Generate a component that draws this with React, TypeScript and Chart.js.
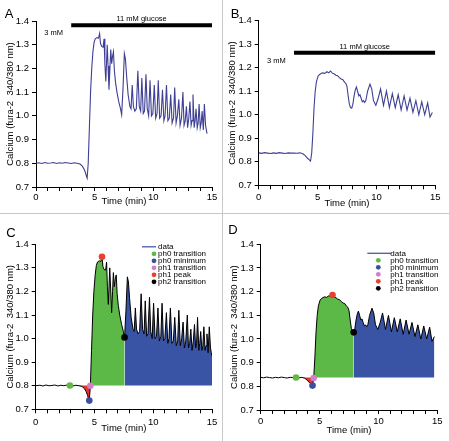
import React, { useEffect, useRef } from 'react';
import { Chart, registerables } from 'chart.js';

Chart.register(...registerables);

// ---------------- DATA ----------------
// Trace 1 (panel A, reprocessed in panel C)
const timesA = [
  0, 0.25, 0.5, 0.75, 1.0, 1.25, 1.5, 1.75, 2.0, 2.25, 2.5, 2.75, 3.0, 3.25, 3.5, 3.75, 3.95, 4.1, 4.22, 4.3,
  4.36, 4.45, 4.55, 4.65, 4.75, 4.85, 4.95, 5.05, 5.2, 5.32, 5.42, 5.5, 5.6, 5.72, 5.8, 5.87, 5.95, 6.07, 6.14, 6.22,
  6.3, 6.37, 6.45, 6.52, 6.6, 6.68, 6.78, 6.9, 7.05, 7.2, 7.3, 7.42, 7.53, 7.62, 7.72, 7.85, 8.0, 8.1, 8.2, 8.3,
  8.42, 8.55, 8.68, 8.8, 8.92, 9.02, 9.14, 9.25, 9.37, 9.48, 9.6, 9.72, 9.84, 9.96, 10.08, 10.2, 10.32, 10.42, 10.54, 10.66,
  10.78, 10.9, 11.0, 11.12, 11.24, 11.36, 11.48, 11.6, 11.72, 11.82, 11.94, 12.05, 12.17, 12.28, 12.4, 12.52, 12.62, 12.72, 12.82, 12.92,
  13.02, 13.12, 13.22, 13.3, 13.38, 13.48, 13.56, 13.64, 13.74, 13.82, 13.9, 14.0, 14.08, 14.16, 14.26, 14.35, 14.45, 14.52, 14.58,
];
const calciumA = [
  0.800, 0.802, 0.799, 0.803, 0.800, 0.801, 0.803, 0.799, 0.802, 0.800, 0.803, 0.801, 0.799, 0.802, 0.800, 0.797, 0.788, 0.775, 0.760, 0.745,
  0.737, 0.800, 0.950, 1.100, 1.200, 1.270, 1.310, 1.325, 1.330, 1.327, 1.347, 1.305, 1.293, 1.290, 1.325, 1.220, 1.145, 1.300, 1.210, 1.110,
  1.200, 1.280, 1.220, 1.250, 1.270, 1.190, 1.140, 1.100, 1.060, 1.030, 1.005, 1.120, 1.262, 1.240, 1.170, 1.090, 1.040, 1.030, 1.130, 1.040,
  1.020, 1.030, 1.190, 1.040, 1.020, 1.160, 1.010, 1.020, 1.175, 1.030, 1.000, 1.150, 1.000, 1.010, 1.130, 0.990, 1.010, 1.150, 0.990, 1.000,
  1.110, 0.980, 1.000, 1.130, 0.980, 0.990, 1.090, 0.970, 0.990, 1.120, 0.970, 1.000, 1.070, 0.960, 0.990, 1.100, 0.960, 0.980, 1.040, 0.950,
  0.990, 1.060, 0.960, 0.980, 1.090, 0.950, 0.980, 1.030, 0.950, 0.970, 1.050, 0.950, 0.970, 1.020, 0.940, 1.050, 0.960, 0.940, 0.925,
];
// Same trace as drawn on panel C's time axis
const timesC = [
  0, 0.36, 0.61, 0.87, 1.12, 1.38, 1.63, 1.89, 2.14, 2.40, 2.66, 2.91, 3.17, 3.42, 3.68, 3.93, 4.14, 4.29, 4.41, 4.49,
  4.56, 4.65, 4.75, 4.85, 4.95, 5.06, 5.16, 5.26, 5.41, 5.54, 5.64, 5.72, 5.82, 5.95, 6.03, 6.10, 6.18, 6.30, 6.38, 6.46,
  6.54, 6.61, 6.69, 6.76, 6.85, 6.93, 7.03, 7.15, 7.31, 7.46, 7.56, 7.68, 7.80, 7.89, 7.99, 8.12, 8.28, 8.38, 8.48, 8.58,
  8.71, 8.84, 8.97, 9.09, 9.22, 9.32, 9.44, 9.55, 9.68, 9.79, 9.91, 10.03, 10.16, 10.28, 10.40, 10.52, 10.65, 10.75, 10.87, 10.99,
  11.12, 11.24, 11.34, 11.46, 11.59, 11.71, 11.83, 11.96, 12.08, 12.18, 12.30, 12.42, 12.54, 12.65, 12.77, 12.90, 13.00, 13.10, 13.20, 13.30,
  13.41, 13.51, 13.61, 13.69, 13.77, 13.88, 13.96, 14.04, 14.14, 14.22, 14.31, 14.41, 14.49, 14.57, 14.67, 14.77, 14.87, 14.94, 15.00,
];

// Trace 2 (panel B, reprocessed in panel D)
const timesB = [
  0, 0.25, 0.5, 0.75, 1.0, 1.25, 1.5, 1.75, 2.0, 2.25, 2.5, 2.75, 3.0, 3.25, 3.5, 3.75, 3.95, 4.15, 4.3, 4.4,
  4.5, 4.6, 4.7, 4.8, 4.9, 5.05, 5.2, 5.4, 5.6, 5.8, 5.95, 6.1, 6.25, 6.4, 6.55, 6.7, 6.85, 7.0, 7.15, 7.3,
  7.4, 7.5, 7.6, 7.7, 7.8, 7.9, 8.0, 8.1, 8.2, 8.3, 8.4, 8.5, 8.6, 8.7, 8.8, 8.9, 9.0, 9.1, 9.25, 9.45,
  9.6, 9.75, 9.95, 10.15, 10.35, 10.6, 10.85, 11.1, 11.35, 11.6, 11.85, 12.1, 12.35, 12.6, 12.85, 13.1, 13.35, 13.6, 13.85, 14.1,
  14.35, 14.55, 14.75,
];
const calciumB = [
  0.838, 0.836, 0.839, 0.837, 0.835, 0.838, 0.836, 0.839, 0.837, 0.835, 0.838, 0.837, 0.837, 0.836, 0.838, 0.834, 0.826, 0.815, 0.808, 0.803,
  0.835, 0.920, 1.030, 1.100, 1.140, 1.165, 1.172, 1.178, 1.176, 1.183, 1.178, 1.186, 1.177, 1.174, 1.168, 1.166, 1.158, 1.152, 1.149, 1.138,
  1.134, 1.120, 1.080, 1.045, 1.030, 1.028, 1.045, 1.080, 1.105, 1.118, 1.100, 1.080, 1.085, 1.070, 1.055, 1.060, 1.052, 1.060, 1.100, 1.130,
  1.110, 1.060, 1.040, 1.070, 1.110, 1.040, 1.100, 1.030, 1.090, 1.030, 1.085, 1.020, 1.080, 1.020, 1.070, 1.010, 1.060, 1.000, 1.055, 1.000,
  1.050, 0.990, 1.010,
];

const glucoseStart = 3;
const glucoseEnd = 15;
const glucoseLevelA = 1.382;
const glucoseLevelB = 1.264;
const lowGlucoseLabelTime = 1.5;
const highGlucoseLabel = '11 mM glucose';
const lowGlucoseLabel = '3 mM';

const legendDataLabel = 'data';
const markerNames = ['ph0 transition', 'ph0 minimum', 'ph1 transition', 'ph1 peak', 'ph2 transition'];
const markerTimesC = [2.91, 4.56, 4.65, 5.64, 7.56];
const markerTimesD = [3.0, 4.4, 4.5, 6.1, 7.9];

const xTicks = [0, 5, 10, 15];

// ---------------- STYLE ----------------
const FONT = '"Liberation Sans", Arial, Helvetica, sans-serif';
const traceColor = '#3f3f96';
const legendLineColor = '#4b5aa8';
const markerColors = ['#63b946', '#3b4fa2', '#d27fcb', '#e6402e', '#000000'];
const phaseFill = { red: '#e5332a', green: '#5cb947', blue: '#3954a4' };
const tickFont = { family: FONT, size: 9.5 };

type PanelCfg = {
  key: string; kind: 'raw' | 'phase';
  left: number; top: number; width: number; height: number;
  padTop: number; padRight: number; yWidth: number; xHeight: number;
  xTickPad: number; xTitlePad: number; yTitlePad: number;
  letter: { x: number; y: number };
  legend?: { labelDx: number; dotDx: number; lineX1: number; lineX2: number; dy: number; rowH: number };
};

const panels: PanelCfg[] = [
  { key: 'A', kind: 'raw', left: 0, top: 0, width: 221, height: 213, padTop: 21, padRight: 9, yWidth: 36, xHeight: 26,
    xTickPad: 1, xTitlePad: 5.6, yTitlePad: 4.3, letter: { x: 9, y: 14 } },
  { key: 'B', kind: 'raw', left: 223, top: 0, width: 226, height: 213, padTop: 20.7, padRight: 13.7, yWidth: 35.7, xHeight: 27.7,
    xTickPad: 2.5, xTitlePad: 4, yTitlePad: 3.6, letter: { x: 12, y: 14 } },
  { key: 'C', kind: 'phase', left: 0, top: 214, width: 221, height: 227, padTop: 30.3, padRight: 9, yWidth: 35.7, xHeight: 31.7,
    xTickPad: 3, xTitlePad: 7, yTitlePad: 4.3, letter: { x: 11, y: 19 },
    legend: { labelDx: -54, dotDx: -58, lineX1: -70, lineX2: -56, dy: 2.5, rowH: 7 } },
  { key: 'D', kind: 'phase', left: 223, top: 214, width: 226, height: 227, padTop: 30.3, padRight: 11.7, yWidth: 37.7, xHeight: 31,
    xTickPad: 2, xTitlePad: 5.3, yTitlePad: 5.3, letter: { x: 10, y: 16 },
    legend: { labelDx: -47, dotDx: -59, lineX1: -70, lineX2: -46, dy: 9, rowH: 7 } },
];

function seriesFor(key: string) {
  if (key === 'A') return { times: timesA, values: calciumA };
  if (key === 'B') return { times: timesB, values: calciumB };
  if (key === 'C') return { times: timesC, values: calciumA };
  return { times: timesB, values: calciumB };
}

function buildDatasets(cfg: PanelCfg) {
  const { times, values } = seriesFor(cfg.key);
  const pts = times.map((t, i) => ({ x: t, y: values[i] }));
  const ds: any[] = [];
  if (cfg.kind === 'raw') {
    const level = cfg.key === 'A' ? glucoseLevelA : glucoseLevelB;
    ds.push({
      data: pts, borderColor: traceColor, borderWidth: 1.1, pointRadius: 0, fill: false, order: 1,
    });
    ds.push({
      data: [{ x: glucoseStart, y: level }, { x: glucoseEnd, y: level }],
      borderColor: '#000', borderWidth: 4, pointRadius: 0, fill: false, order: 0, borderCapStyle: 'butt',
    });
  } else {
    const mTimes = cfg.key === 'C' ? markerTimesC : markerTimesD;
    const mVals = mTimes.map((t) => values[times.indexOf(t)]);
    const base = mVals[0];
    const seg = (a: number, b: number) => pts.filter((p) => p.x >= a && p.x <= b);
    const last = times[times.length - 1];
    const segs = [
      { data: seg(mTimes[0], mTimes[2]), color: phaseFill.red },
      { data: seg(mTimes[2], mTimes[4]), color: phaseFill.green },
      { data: seg(mTimes[4], last), color: phaseFill.blue },
    ];
    segs.forEach((s) => ds.push({
      data: s.data, borderColor: 'rgba(0,0,0,0)', borderWidth: 0, pointRadius: 0,
      backgroundColor: s.color, fill: { value: base }, order: 3,
    }));
    ds.push({ data: pts, borderColor: '#000', borderWidth: 1, pointRadius: 0, fill: false, order: 2 });
    mTimes.forEach((t, i) => ds.push({
      data: [{ x: t, y: mVals[i] }], showLine: false, pointRadius: 3.3, pointBackgroundColor: markerColors[i],
      pointBorderWidth: 0, borderColor: markerColors[i], order: 1, clip: false,
    }));
  }
  return ds;
}

function annotationPlugin(cfg: PanelCfg) {
  return {
    id: 'annot' + cfg.key,
    afterDraw(chart: any) {
      const ctx = chart.ctx;
      const area = chart.chartArea;
      const xs = chart.scales.x;
      const ys = chart.scales.y;
      ctx.save();
      ctx.fillStyle = '#000';
      ctx.textAlign = 'center';
      ctx.textBaseline = 'middle';
      ctx.font = `13px ${FONT}`;
      ctx.fillText(cfg.key, cfg.letter.x, cfg.letter.y);
      if (cfg.kind === 'raw') {
        const level = cfg.key === 'A' ? glucoseLevelA : glucoseLevelB;
        const by = ys.getPixelForValue(level);
        ctx.font = `7.5px ${FONT}`;
        ctx.fillText(highGlucoseLabel, xs.getPixelForValue((glucoseStart + glucoseEnd) / 2), by - 6);
        ctx.fillText(lowGlucoseLabel, xs.getPixelForValue(lowGlucoseLabelTime), by + 8);
      } else if (cfg.legend) {
        const lg = cfg.legend;
        ctx.font = `8px ${FONT}`;
        ctx.textAlign = 'left';
        let y = area.top + lg.dy;
        ctx.strokeStyle = legendLineColor;
        ctx.lineWidth = 1.3;
        ctx.beginPath();
        ctx.moveTo(area.right + lg.lineX1, y);
        ctx.lineTo(area.right + lg.lineX2, y);
        ctx.stroke();
        ctx.fillStyle = '#000';
        ctx.fillText(legendDataLabel, area.right + lg.labelDx, y);
        markerNames.forEach((name, i) => {
          y += lg.rowH;
          ctx.fillStyle = markerColors[i];
          ctx.beginPath();
          ctx.arc(area.right + lg.dotDx, y, 2.4, 0, Math.PI * 2);
          ctx.fill();
          ctx.fillStyle = '#000';
          ctx.fillText(name, area.right + lg.labelDx, y);
        });
      }
      ctx.restore();
    },
  };
}

function Panel({ cfg }: { cfg: PanelCfg }) {
  const ref = useRef<HTMLCanvasElement | null>(null);
  useEffect(() => {
    if (!ref.current) return;
    const gridOpts = { display: true, drawOnChartArea: false, drawTicks: true, tickLength: 4, color: '#000', lineWidth: 1 };
    const chart = new Chart(ref.current, {
      type: 'line',
      data: { datasets: buildDatasets(cfg) },
      options: {
        responsive: false,
        animation: false,
        devicePixelRatio: 1,
        layout: { padding: { left: 0, top: cfg.padTop, right: cfg.padRight, bottom: 0 } },
        plugins: { legend: { display: false }, tooltip: { enabled: false } },
        elements: { line: { tension: 0 } },
        scales: {
          x: {
            type: 'linear', min: 0, max: 15,
            afterFit: (s: any) => { s.height = cfg.xHeight; },
            ticks: {
              stepSize: 1, autoSkip: false, maxRotation: 0, padding: cfg.xTickPad, color: '#000', font: tickFont,
              callback: (v: any) => (xTicks.includes(Number(v)) ? String(v) : ''),
            },
            grid: gridOpts,
            border: { display: true, color: '#000', width: 1 },
            title: { display: true, text: 'Time (min)', color: '#000', font: tickFont, padding: { top: 0, bottom: cfg.xTitlePad } },
          },
          y: {
            type: 'linear', min: 0.7, max: 1.4,
            afterFit: (s: any) => { s.width = cfg.yWidth; },
            ticks: {
              stepSize: 0.1, padding: 3, color: '#000', font: tickFont,
              callback: (v: any) => Number(v).toFixed(1),
            },
            grid: gridOpts,
            border: { display: true, color: '#000', width: 1 },
            title: { display: true, text: 'Calcium (fura-2  340/380 nm)', color: '#000', font: tickFont, padding: { top: cfg.yTitlePad, bottom: 0 } },
          },
        },
      } as any,
      plugins: [annotationPlugin(cfg)],
    });
    return () => chart.destroy();
  }, [cfg]);
  return (
    <canvas
      ref={ref}
      width={cfg.width}
      height={cfg.height}
      style={{ position: 'absolute', left: cfg.left, top: cfg.top, width: cfg.width, height: cfg.height }}
    />
  );
}

export default function App() {
  return (
    <div style={{ position: 'absolute', left: 0, top: 0, width: 449, height: 441, background: '#fff', overflow: 'hidden' }}>
      {panels.map((p) => <Panel key={p.key} cfg={p} />)}
      <div style={{ position: 'absolute', left: 222, top: 0, width: 1, height: 441, background: '#c8c8c8' }} />
      <div style={{ position: 'absolute', left: 0, top: 213, width: 449, height: 1, background: '#c8c8c8' }} />
    </div>
  );
}
